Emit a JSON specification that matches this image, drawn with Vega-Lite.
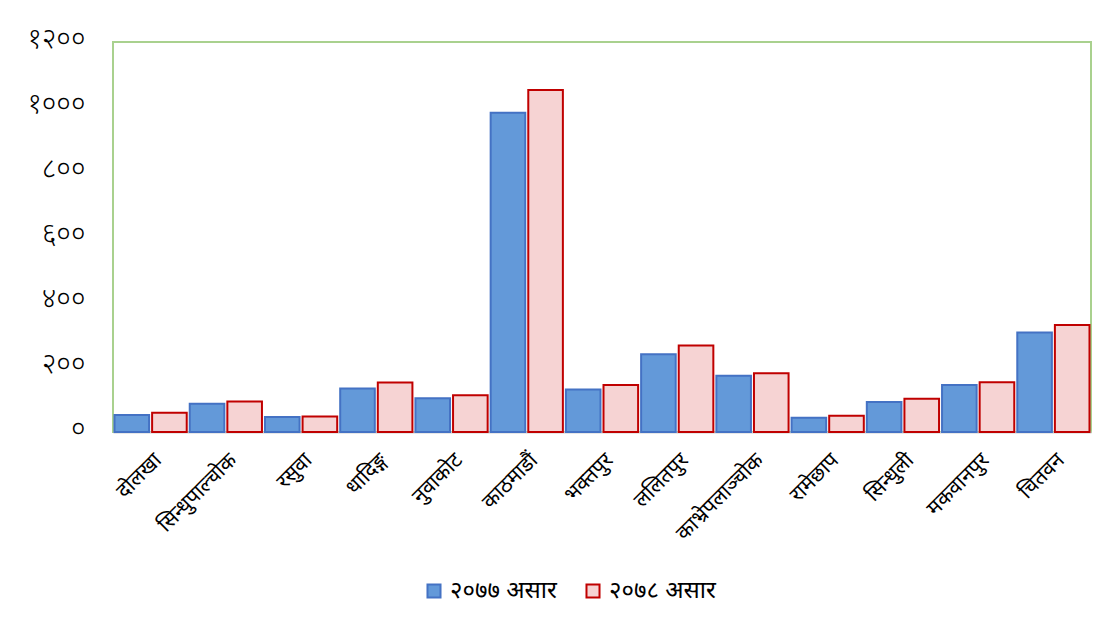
{
  "$schema": "https://vega.github.io/schema/vega-lite/v6.json",
  "autosize": {"type": "none"},
  "width": 978,
  "height": 390,
  "padding": {"left": 113, "top": 42, "right": 18, "bottom": 191},
  "background": "white",
  "data": {
    "values": [
      {"district": "दोलखा", "year": "२०७७ असार", "value": 52},
      {"district": "दोलखा", "year": "२०७८ असार", "value": 59},
      {"district": "सिन्धुपाल्चोक", "year": "२०७७ असार", "value": 87},
      {"district": "सिन्धुपाल्चोक", "year": "२०७८ असार", "value": 94},
      {"district": "रसुवा", "year": "२०७७ असार", "value": 46},
      {"district": "रसुवा", "year": "२०७८ असार", "value": 48},
      {"district": "धादिङ्ग", "year": "२०७७ असार", "value": 134},
      {"district": "धादिङ्ग", "year": "२०७८ असार", "value": 152},
      {"district": "नुवाकोट", "year": "२०७७ असार", "value": 104},
      {"district": "नुवाकोट", "year": "२०७८ असार", "value": 113},
      {"district": "काठमाडौं", "year": "२०७७ असार", "value": 982},
      {"district": "काठमाडौं", "year": "२०७८ असार", "value": 1052},
      {"district": "भक्तपुर", "year": "२०७७ असार", "value": 131},
      {"district": "भक्तपुर", "year": "२०७८ असार", "value": 145},
      {"district": "ललितपुर", "year": "२०७७ असार", "value": 239},
      {"district": "ललितपुर", "year": "२०७८ असार", "value": 266},
      {"district": "काभ्रेपलाञ्चोक", "year": "२०७७ असार", "value": 173},
      {"district": "काभ्रेपलाञ्चोक", "year": "२०७८ असार", "value": 181},
      {"district": "रामेछाप", "year": "२०७७ असार", "value": 44},
      {"district": "रामेछाप", "year": "२०७८ असार", "value": 50},
      {"district": "सिन्धुली", "year": "२०७७ असार", "value": 92},
      {"district": "सिन्धुली", "year": "२०७८ असार", "value": 102},
      {"district": "मकवानपुर", "year": "२०७७ असार", "value": 145},
      {"district": "मकवानपुर", "year": "२०७८ असार", "value": 153},
      {"district": "चितवन", "year": "२०७७ असार", "value": 306},
      {"district": "चितवन", "year": "२०७८ असार", "value": 329}
    ]
  },
  "mark": {"type": "bar", "strokeWidth": 2},
  "encoding": {
    "x": {
      "field": "district",
      "type": "nominal",
      "sort": null,
      "scale": {"paddingInner": 0.04, "paddingOuter": 0.02},
      "axis": {
        "title": null,
        "labelAngle": -45,
        "labelFontSize": 21,
        "labelColor": "black",
        "labelFont": "Noto Sans",
        "ticks": false,
        "domain": true,
        "domainColor": "#d0d0d0",
        "domainWidth": 2,
        "labelPadding": 17
      }
    },
    "xOffset": {"field": "year", "type": "nominal", "scale": {"paddingInner": 0.08}},
    "y": {
      "field": "value",
      "type": "quantitative",
      "scale": {"domain": [0, 1200], "nice": false},
      "axis": {
        "title": null,
        "values": [0, 200, 400, 600, 800, 1000, 1200],
        "labelExpr": "{'0':'०','200':'२००','400':'४००','600':'६००','800':'८००','1000':'१०००','1200':'१२००'}[datum.value + '']",
        "labelFontSize": 28,
        "labelFontWeight": 300,
        "labelColor": "black",
        "labelFont": "Noto Sans",
        "labelPadding": 28,
        "labelOffset": -3,
        "ticks": false,
        "domain": false,
        "grid": false
      }
    },
    "fill": {
      "field": "year",
      "type": "nominal",
      "scale": {"range": ["#6399d9", "#f6d3d3"]},
      "legend": {
        "title": null,
        "orient": "none",
        "legendX": 309,
        "legendY": 537,
        "direction": "horizontal",
        "labelFontSize": 24,
        "labelFont": "Noto Sans",
        "labelColor": "black",
        "symbolType": "square",
        "symbolSize": 170,
        "symbolStrokeWidth": 2,
        "columnPadding": 24
      }
    },
    "stroke": {
      "field": "year",
      "type": "nominal",
      "scale": {"range": ["#4472c4", "#c00000"]},
      "legend": null
    }
  },
  "config": {
    "view": {"stroke": "#a9d18e", "strokeWidth": 2}
  }
}
